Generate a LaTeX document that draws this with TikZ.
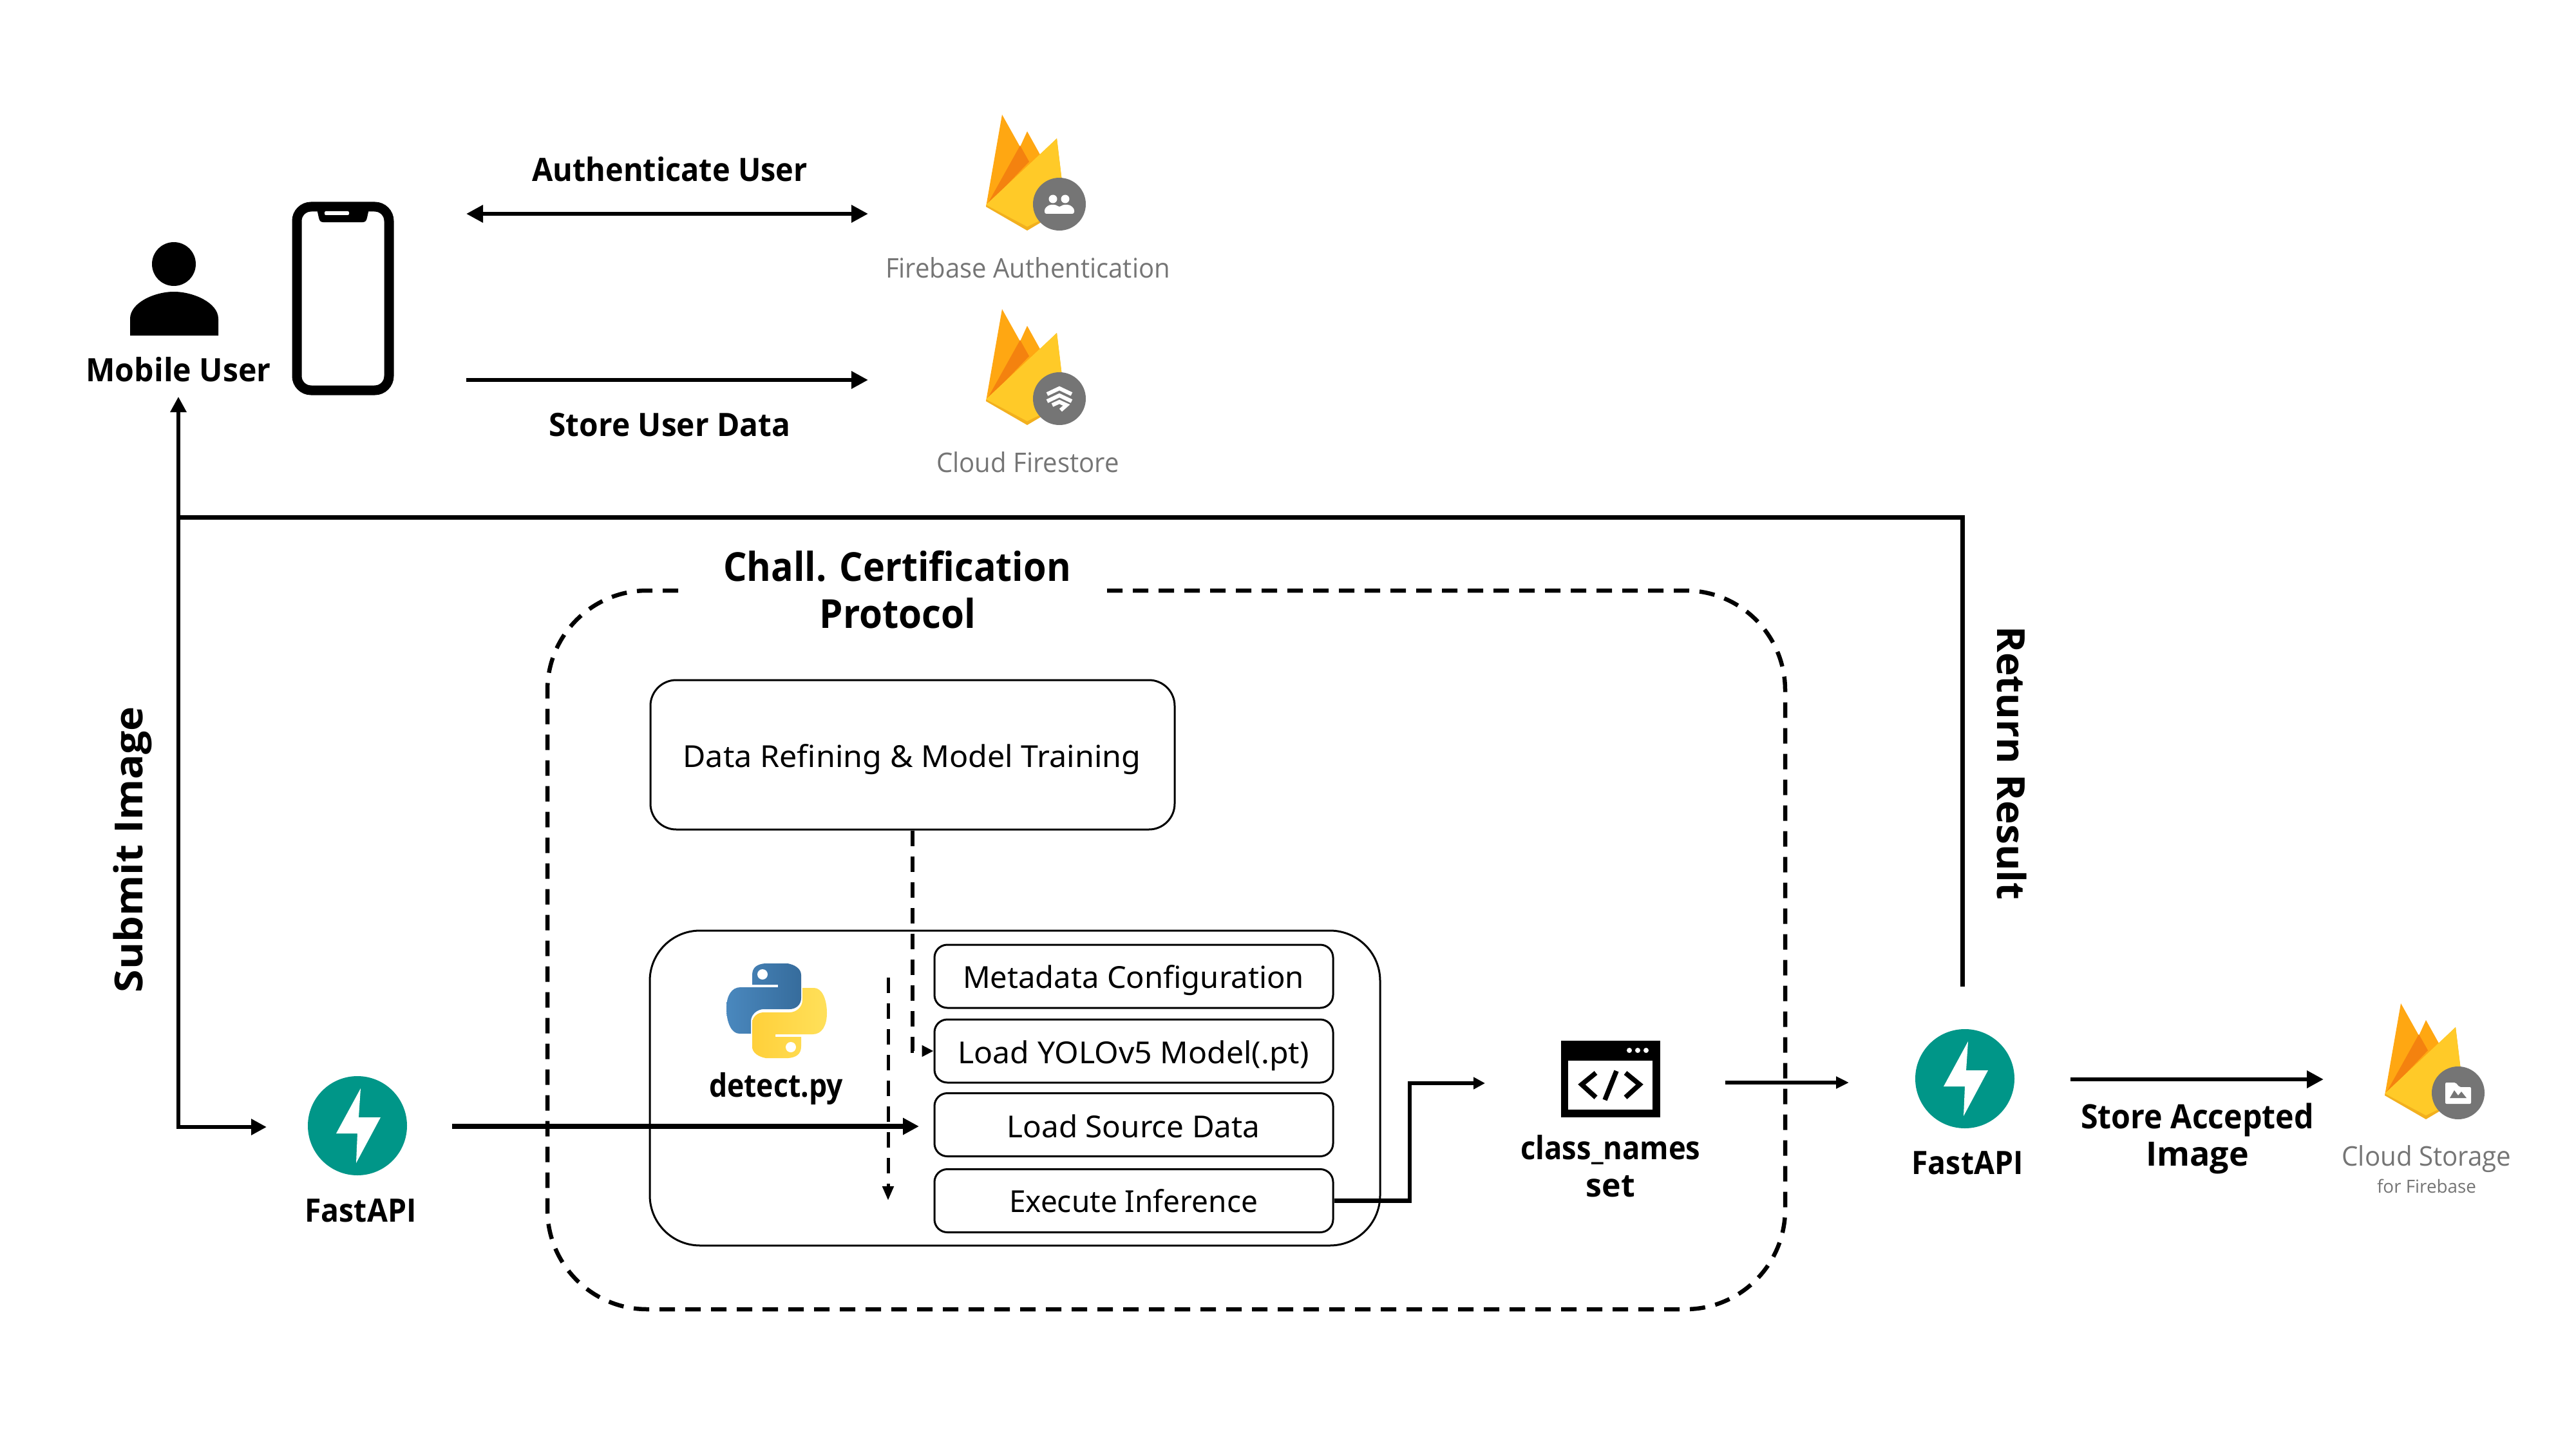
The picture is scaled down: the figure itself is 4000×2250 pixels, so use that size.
\documentclass[tikz,border=0pt]{standalone}
\usepackage{fontspec}
\usepackage{graphicx}
\setmainfont{Noto Sans}
\newfontfamily\gfont{Open Sans}
\newfontfamily\bfont[UprightFont=*,BoldFont=* Bold]{Open Sans}
\usetikzlibrary{arrows.meta,calc}
\definecolor{flameA}{HTML}{FFA712}
\definecolor{flameB}{HTML}{F4820F}
\definecolor{flameC}{HTML}{FFCA28}
\definecolor{flameD}{HTML}{F2B01E}
\definecolor{badge}{HTML}{757575}
\definecolor{teal}{HTML}{009688}
\definecolor{pyA}{HTML}{4A88BE}
\definecolor{pyB}{HTML}{366C9C}
\definecolor{pyC}{HTML}{FFE05A}
\definecolor{pyD}{HTML}{FFD03A}
\newcommand\fit[2]{\resizebox{#1pt}{\height}{#2}}
\newcommand\fsz[1]{\fontsize{#1}{#1}\selectfont}
\tikzset{
  lbl/.style={anchor=base,inner sep=0pt,font=\fsz{50}\bfont\bfseries,text=black},
  ttl/.style={anchor=base,inner sep=0pt,font=\fsz{62}\bfont\bfseries,text=black},
  side/.style={anchor=base,inner sep=0pt,font=\fsz{60}\bfont\bfseries,text=black},
  gry/.style={anchor=base,inner sep=0pt,font=\fsz{42}\gfont,text=badge},
  gry2/.style={anchor=base,inner sep=0pt,font=\fsz{28}\gfont,text=badge},
  boxtxt/.style={anchor=base,inner sep=0pt,font=\fsz{47},text=black},
  stepbox/.style={draw=black,line width=3pt,rounded corners=20pt,minimum width=619pt,minimum height=98pt,inner sep=0pt,fill=white},
  conn/.style={line width=6.5pt,draw=black},
  headA/.style={-{Triangle[length=26pt,width=26pt]}},
  headB/.style={{Triangle[length=26pt,width=26pt]}-{Triangle[length=26pt,width=26pt]}},
  dsh/.style={line width=6.5pt,dash pattern=on 24pt off 16pt,draw=black},
}
\newcommand\flame[2]{%
  \begin{scope}[shift={(#1,#2)}]
    \fill[flameA,line join=round] (0,143) -- (25,0) -- (53,50) -- (64,26) -- (84,62) -- cycle;
    \fill[flameB] (0,143) -- (53,48) -- (67,73) -- cycle;
    \fill[flameD] (0,143) -- (110,37) -- (123,145) -- (64,180) -- cycle;
    \fill[flameC] (0,140) -- (110,37) -- (123,145) -- (64,174) -- cycle;
  \end{scope}}
\newcommand\pyshape{(60,0) .. controls (48,1) and (40,6) .. (40,18) -- (40,33) -- (80,33) -- (80,37) -- (22,37) .. controls (8,37) and (0,50) .. (0,70) .. controls (0,92) and (8,109) .. (20,109) -- (38,109) -- (38,90) .. controls (38,79) and (48,71) .. (58,71) -- (98,71) .. controls (108,71) and (116,64) .. (116,54) -- (116,18) .. controls (116,8) and (106,2) .. (95,0) -- cycle}
\newcommand\bolt{(5,-58) -- (2,-13) -- (36,-13) -- (-2,58) -- (0,12) -- (-33,12) -- cycle}
\begin{document}
\begin{tikzpicture}[x=1pt,y=-1pt]
\useasboundingbox (0,0) rectangle (4000,2250);
\fill[white] (0,0) rectangle (4000,2250);

% person
\fill[black] (270,410) circle[radius=34];
\fill[black] (202,521) -- (202,495) .. controls (202,470) and (240,453) .. (270,453) .. controls (300,453) and (339,470) .. (339,495) -- (339,521) -- cycle;
\node[lbl] (muser) at (277,592) {\fit{287}{Mobile User}};

% phone
\node[draw=black,line width=15pt,rounded corners=22pt,minimum width=143pt,minimum height=285pt,inner sep=0pt] (phone) at (532.5,463.5) {};
\fill[black] (491,320) -- (574,320) -- (570,338) .. controls (569,343) and (567,345) .. (563,345) -- (502,345) .. controls (498,345) and (496,343) .. (495,338) -- cycle;
\fill[white,rounded corners=2pt] (504,328) rectangle (542,334);

% firebase auth
\flame{1531}{178}
\fill[badge] (1645,317) circle[radius=41];
\begin{scope}[shift={(1645,317)}]
  \fill[white] (-10,-8) circle[radius=6.5];
  \fill[white] (9,-8) circle[radius=6.5];
  \fill[white,rounded corners=3pt] (-23,15) -- (-23,7) -- (-16,1) -- (-5,1) -- (0,5) -- (5,1) -- (16,1) -- (23,7) -- (23,15) -- cycle;
\end{scope}
\node[gry] (fauth) at (1596,431) {\fit{442}{Firebase Authentication}};

% firestore
\flame{1531}{480}
\fill[badge] (1645,619) circle[radius=41];
\begin{scope}[shift={(1645,619)}]
  \draw[white,line width=6pt] (-19,-7) -- (0,-16) -- (19,-7);
  \draw[white,line width=6pt] (-19,4) -- (0,-5) -- (19,4);
  \draw[white,line width=6pt] (-11,10) -- (0,5) -- (11,10) -- (2,18);
\end{scope}
\node[gry] (fstore) at (1596,733) {\fit{284}{Cloud Firestore}};

% top connectors
\coordinate (authL) at (724,332);
\coordinate (authR) at (1348,332);
\coordinate (storeL) at (724,590);
\coordinate (storeR) at (1348,590);
\draw[conn,headB] (authL) -- (authR);
\draw[conn,headA] (storeL) -- (storeR);
\node[lbl] (authT) at (1040,282) {\fit{428}{Authenticate User}};
\node[lbl] (storeT) at (1040,677) {\fit{375}{Store User Data}};

% outer dashed frame
\draw[dsh,rounded corners=155pt] (1719,917) -- (2772,917) -- (2772,2033) -- (850,2033) -- (850,917) -- (1067,917);
\node[ttl] (title1) at (1393,902) {\fit{540}{Chall. Certification}};
\node[ttl] (title2) at (1394,975) {\fit{243}{Protocol}};

% data refining
\node[draw=black,line width=3pt,rounded corners=40pt,minimum width=814pt,minimum height=232pt,inner sep=0pt,fill=white] (data) at (1417,1172) {};
\node[boxtxt] (dataT) at (1416,1191) {\fit{711}{Data Refining \& Model Training}};

% detect group
\node[draw=black,line width=3pt,rounded corners=78pt,minimum width=1134pt,minimum height=489pt,inner sep=0pt] (detect) at (1576,1689.5) {};
\node[stepbox] (meta) at (1760.5,1516) {};
\node[stepbox] (yolo) at (1760.5,1632) {};
\node[stepbox] (src) at (1760.5,1746.5) {};
\node[stepbox] (exec) at (1760.5,1864.5) {};
\node[boxtxt] (metaT) at (1760,1534) {\fit{530}{Metadata Configuration}};
\node[boxtxt] (yoloT) at (1760,1651) {\fit{545}{Load YOLOv5 Model(.pt)}};
\node[boxtxt] (srcT) at (1760,1766) {\fit{393}{Load Source Data}};
\node[boxtxt] (execT) at (1760,1882) {\fit{386}{Execute Inference}};

% python logo
\begin{scope}[shift={(1128,1496)}]
  \shade[left color=pyA,right color=pyB] \pyshape;
  \fill[white] (56,17) circle[radius=8];
\end{scope}
\begin{scope}[shift={(1284,1643)},xscale=-1,yscale=-1]
  \shade[left color=pyD,right color=pyC] \pyshape;
  \fill[white] (56,17) circle[radius=8];
\end{scope}
\node[lbl] (detectT) at (1205,1703) {\fit{208}{detect.py}};

% FastAPI left
\node[circle,fill=teal,minimum size=154pt,inner sep=0pt] (fa1) at (555,1748) {};
\begin{scope}[shift={(555,1748)}] \fill[white] \bolt; \end{scope}
\node[lbl] (fa1T) at (560,1897) {\fit{173}{FastAPI}};

% FastAPI right
\node[circle,fill=teal,minimum size=154pt,inner sep=0pt] (fa2) at (3051,1675) {};
\begin{scope}[shift={(3051,1675)}] \fill[white] \bolt; \end{scope}
\node[lbl] (fa2T) at (3055,1823) {\fit{173}{FastAPI}};

% class_names window
\fill[black] (2424,1616) rectangle (2578,1735);
\fill[white] (2435,1647) rectangle (2566,1723);
\foreach \xx in {2530,2543,2556} \fill[white] (\xx,1631) circle[radius=4];
\draw[black,line width=7.5pt] (2478,1666) -- (2456,1684) -- (2478,1704);
\draw[black,line width=7.5pt] (2524,1666) -- (2546,1684) -- (2524,1704);
\draw[black,line width=7.5pt] (2510,1663) -- (2492,1708);
\node[lbl] (cnT) at (2501,1800) {\fit{279}{class\_names}};
\node[lbl] (setT) at (2501,1858) {set};

% storage
\flame{3703}{1558}
\fill[badge] (3817,1697) circle[radius=41];
\begin{scope}[shift={(3817,1697)}]
  \fill[white,rounded corners=2pt] (-20,17) -- (-20,-16) -- (-4,-16) -- (2,-9) -- (20,-9) -- (20,17) -- cycle;
  \fill[badge] (-13,8) -- (-6,-4) -- (0,4) -- (5,-2) -- (13,8) -- cycle;
\end{scope}
\node[gry] (csT) at (3768,1810) {\fit{263}{Cloud Storage}};
\node[gry2] (cfT) at (3768,1852) {\fit{154}{for Firebase}};

% storing arrow
\coordinate (accL) at (3215,1676);
\coordinate (accR) at (3608,1676);
\draw[conn,headA] (accL) -- (accR);
\node[lbl,font=\fsz{52}\bfont\bfseries] (accT1) at (3412,1752) {\fit{362}{Store Accepted}};
\node[lbl,font=\fsz{52}\bfont\bfseries] (accT2) at (3412,1810) {Image};

% result / submit lines
\coordinate (muserTip) at (277,616);
\coordinate (junction) at (277,803);
\coordinate (faTip) at (414,1750);
\coordinate (retCorner) at (3047,803);
\coordinate (retEnd) at (3047,1532);
\draw[conn,line width=7pt] (junction) -- (retCorner) -- (retEnd);
\draw[conn,line width=6pt,{Triangle[length=24pt,width=24pt]}-{Triangle[length=24pt,width=24pt]}] (muserTip) |- (faTip);
\node[side,rotate=90] (submitT) at (221,1319) {\fit{444}{Submit Image}};
\node[side,rotate=-90] (returnT) at (3101,1185) {\fit{426}{Return Result}};

% inner connectors
\coordinate (faOut) at (702,1749);
\coordinate (srcTip) at (1427,1749);
\draw[conn,line width=8pt,-{Triangle[length=25pt,width=25pt]}] (faOut) -- (srcTip);
\draw[line width=6pt,dash pattern=on 24pt off 16pt,-{Triangle[length=18pt,width=17pt]}] (data.south) |- (yolo.west);
\coordinate (dashTop) at (1379,1518);
\coordinate (dashEnd) at (1379,1864);
\draw[line width=5pt,dash pattern=on 24pt off 16pt,-{Triangle[length=22pt,width=17pt]}] (dashTop) -- (dashEnd);
\coordinate (elbow) at (2189,1682);
\coordinate (outTip) at (2306,1682);
\draw[conn,-{Triangle[length=18pt,width=18pt]}] (exec.east) -| (elbow) -- (outTip);
\coordinate (cnOut) at (2679,1681);
\coordinate (cnTip) at (2871,1681);
\draw[conn,line width=5.5pt,-{Triangle[length=20pt,width=18pt]}] (cnOut) -- (cnTip);
\end{tikzpicture}
\end{document}
